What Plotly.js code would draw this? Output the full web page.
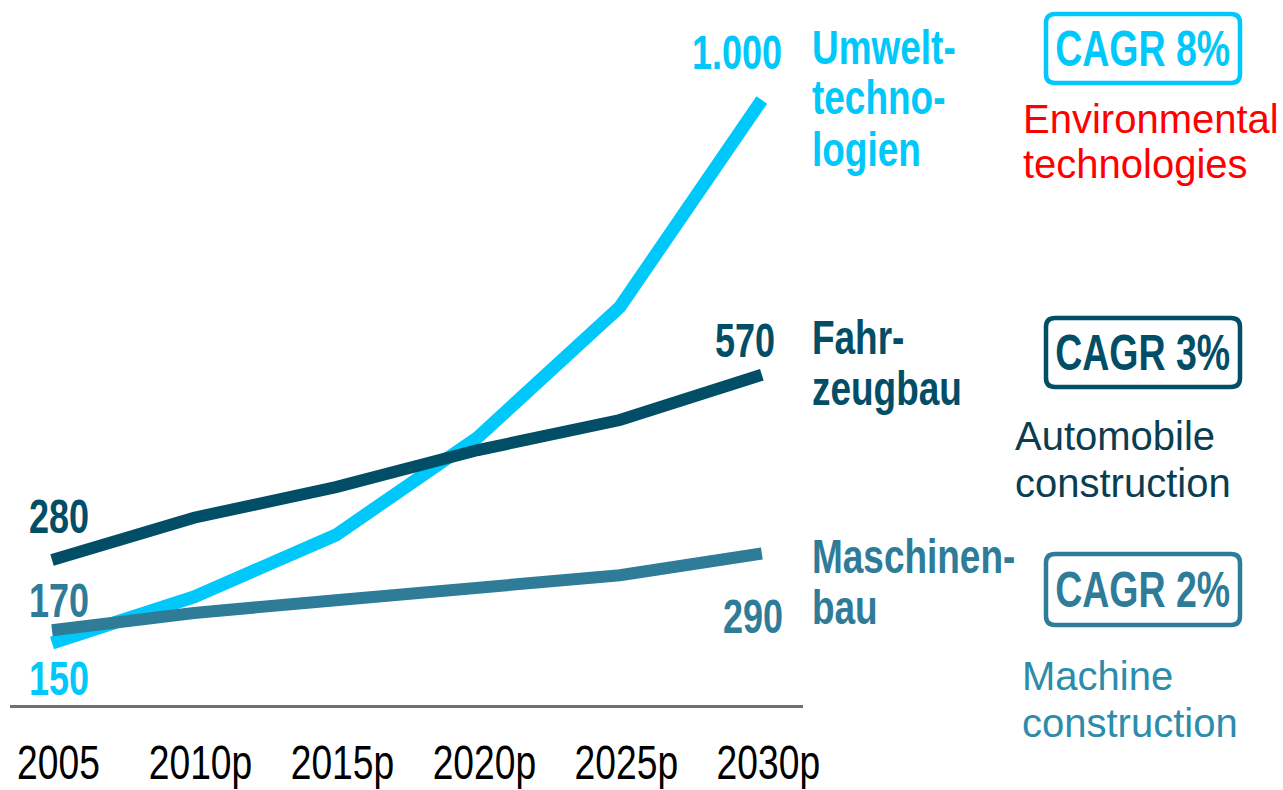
<!DOCTYPE html>
<html>
<head>
<meta charset="utf-8">
<script src="https://cdn.plot.ly/plotly-3.0.1.min.js"></script>
<style>html,body{margin:0;padding:0;background:#fff;}#chart{width:1283px;height:790px;}</style>
</head>
<body>
<div id="chart"></div>
<script>
// ---- data ----
const years = ['2005', '2010p', '2015p', '2020p', '2025p', '2030p'];
const umwelt = [150, 222, 319, 472, 676, 1000];
const fahrzeug = [280, 346, 394, 452, 499, 570];
const maschinen = [170, 197, 217, 236, 256, 290];
const seriesNames = ['Umwelt-<br>techno-<br>logien', 'Fahr-<br>zeugbau', 'Maschinen-<br>bau'];
const englishNames = ['Environmental<br>technologies', 'Automobile<br>construction', 'Machine<br>construction'];
const cagr = ['CAGR 8%', 'CAGR 3%', 'CAGR 2%'];
const startLabels = ['150', '280', '170'];
const endLabels = ['1.000', '570', '290'];

// ---- styles ----
const C_LIGHT = '#00c8fa', C_DARK = '#024e66', C_MID = '#2e7c98';
// marker family names (not installed) select the narrowing pivot; text falls back to Liberation Sans
const NARROW_C = '"NarrowC", "Liberation Sans", Arial, sans-serif';
const NARROW_L = '"NarrowL", "Liberation Sans", Arial, sans-serif';
const SANS = '"Liberation Sans", Arial, sans-serif';
const SQUEEZE = 0.75, SQUEEZE_L = 0.77, TICK_SQUEEZE = 0.76, TICK_SHIFT = 6.5;

const L = 10, R = 803, T = 0, B = 705, W = 1283, H = 790;
const px = X => (X - L) / (R - L);
const py = Y => (B - Y) / (B - T);

function ann(text, X, Y, color, size, opts) {
  return Object.assign({
    text: text, xref: 'paper', yref: 'paper', x: px(X), y: py(Y),
    xanchor: 'center', yanchor: 'middle', showarrow: false,
    font: {family: NARROW_C, size: size, color: color, weight: 'bold'}
  }, opts || {});
}
function lineAnns(text, X, Ys, color, size) {
  return text.split('<br>').map((t, i) => ann(t, X, Ys[i], color, size,
    {xanchor: 'left', font: {family: NARROW_L, size: size, color: color, weight: 'bold'}}));
}
function engAnns(text, X, Ys, color, size) {
  return text.split('<br>').map((t, i) => ann(t, X, Ys[i], color, size,
    {xanchor: 'left', font: {family: SANS, size: size, color: color}}));
}
function roundRect(x0, y0, x1, y1, r, color) {
  const xs = X => px(X).toFixed(5), ys = Y => py(Y).toFixed(5);
  const p = 'M ' + xs(x0 + r) + ' ' + ys(y0) +
    ' L ' + xs(x1 - r) + ' ' + ys(y0) +
    ' Q ' + xs(x1) + ' ' + ys(y0) + ' ' + xs(x1) + ' ' + ys(y0 + r) +
    ' L ' + xs(x1) + ' ' + ys(y1 - r) +
    ' Q ' + xs(x1) + ' ' + ys(y1) + ' ' + xs(x1 - r) + ' ' + ys(y1) +
    ' L ' + xs(x0 + r) + ' ' + ys(y1) +
    ' Q ' + xs(x0) + ' ' + ys(y1) + ' ' + xs(x0) + ' ' + ys(y1 - r) +
    ' L ' + xs(x0) + ' ' + ys(y0 + r) +
    ' Q ' + xs(x0) + ' ' + ys(y0) + ' ' + xs(x0 + r) + ' ' + ys(y0) + ' Z';
  return {type: 'path', xref: 'paper', yref: 'paper', path: p, line: {color: color, width: 4.5}};
}

const traces = [
  {x: years, y: umwelt, mode: 'lines', line: {color: C_LIGHT, width: 13}, hoverinfo: 'skip'},
  {x: years, y: maschinen, mode: 'lines', line: {color: C_MID, width: 12}, hoverinfo: 'skip'},
  {x: years, y: fahrzeug, mode: 'lines', line: {color: C_DARK, width: 12}, hoverinfo: 'skip'}
];

const annotations = [].concat(
  [ann(endLabels[0], 737, 52, C_LIGHT, 48),
   ann(endLabels[1], 745, 340, C_DARK, 48),
   ann(endLabels[2], 753, 616, C_MID, 48),
   ann(startLabels[1], 59, 516, C_DARK, 48),
   ann(startLabels[2], 59, 600, C_MID, 48),
   ann(startLabels[0], 59, 678, C_LIGHT, 48)],
  lineAnns(seriesNames[0], 810, [48, 98, 150], C_LIGHT, 48),
  lineAnns(seriesNames[1], 810, [337, 388], C_DARK, 48),
  lineAnns(seriesNames[2], 810, [556, 607], C_MID, 48),
  engAnns(englishNames[0], 1021, [119, 164], '#ff0000', 40),
  engAnns(englishNames[1], 1013, [436, 483], '#0b3d52', 40),
  engAnns(englishNames[2], 1020, [676, 723], '#2b8cab', 40),
  [ann(cagr[0], 1142, 49, C_LIGHT, 50),
   ann(cagr[1], 1142, 353, C_DARK, 50),
   ann(cagr[2], 1142, 590, C_MID, 50)]
);

const shapes = [
  roundRect(1046, 14, 1240, 83, 9, C_LIGHT),
  roundRect(1046, 318, 1240, 387, 9, C_DARK),
  roundRect(1046, 554, 1240, 625, 9, C_MID)
];

const layout = {
  width: W, height: H,
  margin: {l: L, r: W - R, t: T, b: H - B, pad: 0},
  paper_bgcolor: '#fff', plot_bgcolor: '#fff',
  showlegend: false,
  xaxis: {
    type: 'category', range: [-0.296, 5.29],
    showgrid: false, zeroline: false, showline: true, linecolor: '#707070', linewidth: 2.5,
    ticks: '', ticklabelstandoff: 13,
    tickfont: {family: NARROW_C, size: 49, color: '#000'}
  },
  yaxis: {range: [52.9, 1156.5], visible: false, fixedrange: true},
  annotations: annotations,
  shapes: shapes
};

function narrowTexts() {
  document.querySelectorAll('#chart text').forEach(el => {
    const fam = (el.style.fontFamily || '') + (el.getAttribute('font-family') || '');
    const isC = fam.indexOf('NarrowC') >= 0, isL = fam.indexOf('NarrowL') >= 0;
    if (!isC && !isL) return;
    const isTick = !!el.closest('.xtick');
    const s = isTick ? TICK_SQUEEZE : (isL ? SQUEEZE_L : SQUEEZE);
    const bb = el.getBBox();
    const cx = isL ? bb.x : bb.x + bb.width / 2;
    const prev = el.getAttribute('transform') || '';
    const shift = isTick ? ' translate(' + TICK_SHIFT + ',0)' : '';
    el.setAttribute('transform', (prev + shift + ' translate(' + cx + ',0) scale(' + s + ',1) translate(' + (-cx) + ',0)').trim());
  });
}

Plotly.newPlot('chart', traces, layout, {displayModeBar: false, staticPlot: true}).then(narrowTexts);
</script>
</body>
</html>
